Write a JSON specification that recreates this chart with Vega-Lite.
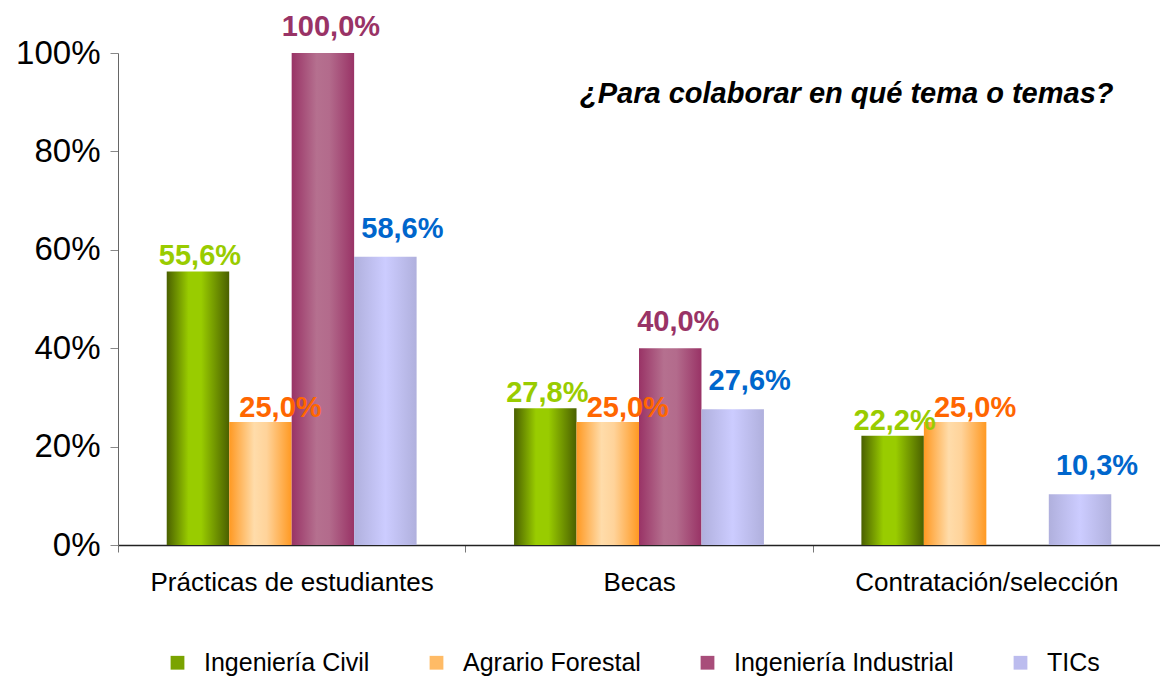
{
  "$schema": "https://vega.github.io/schema/vega-lite/v6.json",
  "width": 1042,
  "height": 492,
  "autosize": {"type": "none"},
  "padding": {"left": 118, "top": 53, "right": 0, "bottom": 131},
  "background": "white",
  "config": {
    "locale": {"number": {"decimal": ",", "thousands": ".", "grouping": [3], "currency": ["", " €"]}},
    "view": {"stroke": null},
    "font": "Liberation Sans"
  },
  "title": {
    "text": "¿Para colaborar en qué tema o temas?",
    "anchor": "end",
    "fontSize": 29,
    "fontStyle": "italic",
    "fontWeight": "bold",
    "font": "Liberation Sans",
    "color": "black",
    "dx": -47,
    "dy": 100
  },
  "data": {
    "values": [
      {"category": "Prácticas de estudiantes", "series": "Ingeniería Civil", "value": 0.556},
      {"category": "Prácticas de estudiantes", "series": "Agrario Forestal", "value": 0.25},
      {"category": "Prácticas de estudiantes", "series": "Ingeniería Industrial", "value": 1.0},
      {"category": "Prácticas de estudiantes", "series": "TICs", "value": 0.586},
      {"category": "Becas", "series": "Ingeniería Civil", "value": 0.278},
      {"category": "Becas", "series": "Agrario Forestal", "value": 0.25},
      {"category": "Becas", "series": "Ingeniería Industrial", "value": 0.4},
      {"category": "Becas", "series": "TICs", "value": 0.276},
      {"category": "Contratación/selección", "series": "Ingeniería Civil", "value": 0.222},
      {"category": "Contratación/selección", "series": "Agrario Forestal", "value": 0.25},
      {"category": "Contratación/selección", "series": "TICs", "value": 0.103}
    ]
  },
  "encoding": {
    "x": {
      "field": "category",
      "type": "nominal",
      "sort": ["Prácticas de estudiantes", "Becas", "Contratación/selección"],
      "scale": {"paddingInner": 0, "paddingOuter": 0},
      "axis": {
        "title": null,
        "labelAngle": 0,
        "labelFontSize": 26,
        "labelColor": "black",
        "labelPadding": 17,
        "labelLimit": 0,
        "tickBand": "extent",
        "tickSize": 7,
        "tickColor": "#777",
        "domainColor": "#222",
        "domainWidth": 1.5
      }
    },
    "xOffset": {
      "field": "series",
      "type": "nominal",
      "sort": ["Ingeniería Civil", "Agrario Forestal", "Ingeniería Industrial", "TICs"],
      "scale": {"paddingInner": 0, "paddingOuter": 0.78}
    },
    "y": {
      "field": "value",
      "type": "quantitative",
      "scale": {"domain": [0, 1], "nice": false},
      "axis": {
        "title": null,
        "format": ".0%",
        "values": [0, 0.2, 0.4, 0.6, 0.8, 1],
        "labelFontSize": 33,
        "labelColor": "black",
        "labelPadding": 10,
        "tickSize": 8,
        "tickColor": "#888",
        "domainColor": "#666",
        "grid": false
      }
    }
  },
  "layer": [
    {
      "mark": {"type": "bar", "opacity": 0},
      "encoding": {
        "color": {
          "field": "series",
          "type": "nominal",
          "scale": {
            "domain": ["Ingeniería Civil", "Agrario Forestal", "Ingeniería Industrial", "TICs"],
            "range": ["#7aa300", "#ffbb66", "#a84d7a", "#bcbcee"]
          },
          "legend": {
            "title": null,
            "orient": "none",
            "legendX": 47,
            "legendY": 597,
            "padding": 0,
            "direction": "horizontal",
            "labelFontSize": 25,
            "labelColor": "black",
            "labelLimit": 0,
            "symbolType": "square",
            "symbolSize": 190,
            "symbolOpacity": 1,
            "symbolStrokeWidth": 0,
            "columnPadding": 54,
            "labelOffset": 14
          }
        }
      }
    },
    {
      "transform": [{"filter": "datum.series === 'Ingeniería Civil'"}],
      "mark": {"type": "bar", "color": {"gradient": "linear", "x1": 0, "y1": 0, "x2": 1, "y2": 0, "stops": [{"offset": 0, "color": "#4a6000"}, {"offset": 0.35, "color": "#99cc00"}, {"offset": 0.55, "color": "#99cc00"}, {"offset": 1, "color": "#4a6000"}]}}
    },
    {
      "transform": [{"filter": "datum.series === 'Agrario Forestal'"}],
      "mark": {"type": "bar", "color": {"gradient": "linear", "x1": 0, "y1": 0, "x2": 1, "y2": 0, "stops": [{"offset": 0, "color": "#ff9922"}, {"offset": 0.4, "color": "#ffdcaa"}, {"offset": 0.6, "color": "#ffd39a"}, {"offset": 1, "color": "#ff9922"}]}}
    },
    {
      "transform": [{"filter": "datum.series === 'Ingeniería Industrial'"}],
      "mark": {"type": "bar", "color": {"gradient": "linear", "x1": 0, "y1": 0, "x2": 1, "y2": 0, "stops": [{"offset": 0, "color": "#993366"}, {"offset": 0.4, "color": "#b5708f"}, {"offset": 0.6, "color": "#b36b8c"}, {"offset": 1, "color": "#993366"}]}}
    },
    {
      "transform": [{"filter": "datum.series === 'TICs'"}],
      "mark": {"type": "bar", "color": {"gradient": "linear", "x1": 0, "y1": 0, "x2": 1, "y2": 0, "stops": [{"offset": 0, "color": "#b0b0dd"}, {"offset": 0.5, "color": "#ccccff"}, {"offset": 1, "color": "#b0b0dd"}]}}
    },
    {
      "transform": [{"filter": "datum.series === 'Ingeniería Civil'"}],
      "mark": {"type": "text", "color": "#99cc00", "fontSize": 29, "fontWeight": "bold", "baseline": "alphabetic", "dx": 2, "dy": -6},
      "encoding": {"text": {"field": "value", "type": "quantitative", "format": ".1%"}}
    },
    {
      "transform": [{"filter": "datum.series === 'Agrario Forestal'"}],
      "mark": {"type": "text", "color": "#ff6600", "fontSize": 29, "fontWeight": "bold", "baseline": "alphabetic", "dx": 20, "dy": -5},
      "encoding": {"text": {"field": "value", "type": "quantitative", "format": ".1%"}}
    },
    {
      "transform": [{"filter": "datum.series === 'Ingeniería Industrial'"}],
      "mark": {"type": "text", "color": "#993366", "fontSize": 29, "fontWeight": "bold", "baseline": "alphabetic", "dx": 8, "dy": -17},
      "encoding": {"text": {"field": "value", "type": "quantitative", "format": ".1%"}}
    },
    {
      "transform": [{"filter": "datum.series === 'TICs'"}],
      "mark": {"type": "text", "color": "#0066cc", "fontSize": 29, "fontWeight": "bold", "baseline": "alphabetic", "dx": 17, "dy": -19},
      "encoding": {"text": {"field": "value", "type": "quantitative", "format": ".1%"}}
    }
  ]
}
